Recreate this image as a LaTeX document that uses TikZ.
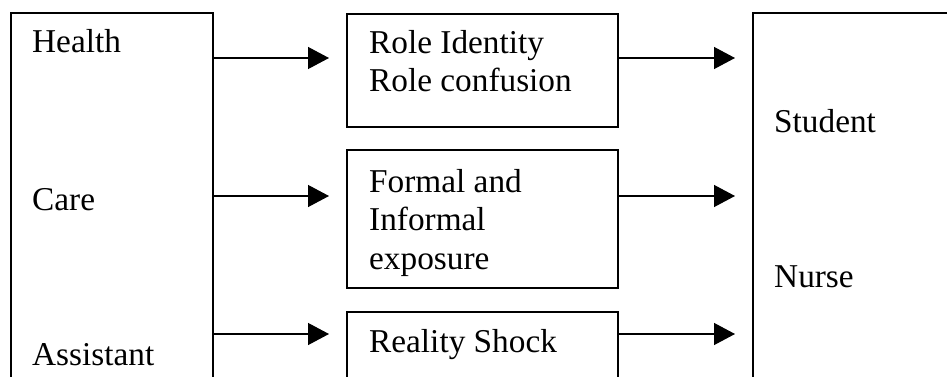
\documentclass[tikz,border=0pt]{standalone}
\usepackage{fontspec}
\setmainfont{Liberation Serif}
\usetikzlibrary{arrows.meta}

\tikzset{
  frame/.style={draw, line width=1.6pt, inner sep=0pt, anchor=north west},
  word/.style={anchor=base west, inner sep=0pt, font=\fontsize{33.3pt}{38pt}\selectfont},
  flow/.style={line width=1.3pt, -{Triangle[length=21pt,width=22pt]}, shorten >=17pt}
}

\begin{document}
\begin{tikzpicture}[x=1pt, y=-1pt]
  \useasboundingbox (0,0) rectangle (947,377);
  \clip (0,0) rectangle (947,377);

  % outer columns, running past the lower and right edges
  \node[frame, minimum width=202pt, minimum height=400pt] (left) at (10,12) {};
  \node[frame, minimum width=240pt, minimum height=400pt] (right) at (752,12) {};

  % middle column
  \node[frame, minimum width=271pt, minimum height=113pt] (b1) at (346,13) {};
  \node[frame, minimum width=271pt, minimum height=138pt] (b2) at (346,149) {};
  \node[frame, minimum width=271pt, minimum height=100pt] (b3) at (346,311) {};

  % texts
  \node[word] (health) at (32,53) {Health};
  \node[word] (care) at (32,210) {Care};
  \node[word] (assistant) at (32,365) {Assistant};

  \node[word] (t1a) at (369,54) {Role Identity};
  \node[word] (t1b) at (369,92) {Role confusion};
  \node[word] (t2a) at (369,192) {Formal and};
  \node[word] (t2b) at (369,230) {Informal};
  \node[word] (t2c) at (369,269) {exposure};
  \node[word] (t3) at (369,352) {Reality Shock};

  \node[word] (student) at (774,132) {Student};
  \node[word] (nurse) at (774,287) {Nurse};

  % arrow rows
  \coordinate (r1) at (0,58);
  \coordinate (r2) at (0,196);
  \coordinate (r3) at (0,334);

  \draw[flow] (left.east |- r1) -- (b1.west |- r1);
  \draw[flow] (left.east |- r2) -- (b2.west |- r2);
  \draw[flow] (left.east |- r3) -- (b3.west |- r3);

  \draw[flow] (b1.east |- r1) -- (right.west |- r1);
  \draw[flow] (b2.east |- r2) -- (right.west |- r2);
  \draw[flow] (b3.east |- r3) -- (right.west |- r3);
\end{tikzpicture}
\end{document}
